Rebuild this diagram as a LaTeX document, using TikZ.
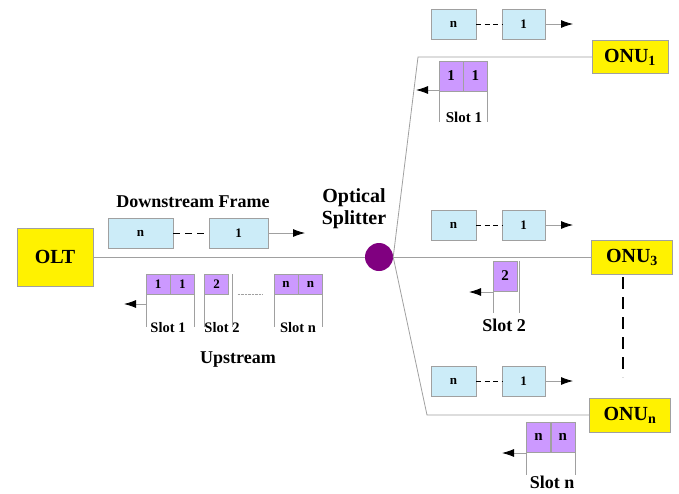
\documentclass[tikz,border=0pt]{standalone}
\usepackage{fontspec}
\setmainfont{Liberation Serif}
\usetikzlibrary{arrows.meta,positioning}
\definecolor{framebl}{HTML}{CCECF8}
\definecolor{slotpur}{HTML}{CC99FF}
\definecolor{splitpur}{HTML}{800080}
\definecolor{fibgr}{HTML}{A0A0A0}
\newcommand{\fsz}[1]{\fontsize{#1}{1.3\dimexpr#1pt\relax}\selectfont}

\begin{document}
\begin{tikzpicture}[x=1pt,y=-1pt,node distance=0pt,>={Latex[length=12pt,width=8pt,color=black]},
    every node/.append style={align=center,font=\bfseries},
    unit/.style={draw=fibgr,fill=yellow,minimum width=78pt,minimum height=34pt,font=\bfseries\fsz{20}},
    frm/.style={draw=fibgr,fill=framebl,minimum height=30pt,inner sep=0pt,font=\bfseries\fsz{13}},
    slt/.style={draw=fibgr,fill=slotpur,minimum width=24pt,minimum height=30pt,inner sep=0pt,font=\bfseries\fsz{15}},
    fib/.style={draw=fibgr,line width=0.8pt},
    gap/.style={draw=black,line width=1pt,dash pattern=on 5pt off 3.5pt},
    arr/.style={draw=fibgr,line width=0.8pt,->},
    lbl/.style={font=\bfseries\fsz{18}}]
    \useasboundingbox (0,0) rectangle (679,493);

    % OLT, splitter and the three ONUs
    \node [unit, minimum width=76pt, minimum height=58pt] (olt) at (55,257) {OLT};
    \node [circle, fill=splitpur, minimum size=28pt, inner sep=0pt] (spl) at (379,257) {};
    \node [font=\bfseries\fsz{20}] (spltxt) at (354,209) {Optical\\[-0.2em]Splitter};
    \node [unit, minimum width=76pt, minimum height=33pt] (onu1) at (630,57) {ONU\textsubscript{1}};
    \node [unit, minimum width=81pt] (onu3) at (632,257) {ONU\textsubscript{3}};
    \node [unit, minimum width=81pt] (onun) at (630,415) {ONU\textsubscript{n}};

    \coordinate (bend1) at (418,57);
    \coordinate (bendn) at (427,415);
    \draw[fib] (olt) -- (spl);
    \draw[fib] (spl.east) -- (bend1) -- (onu1.west);
    \draw[fib] (spl) -- (onu3);
    \draw[fib] (spl.east) -- (bendn) -- (onun.west);

    \coordinate (dot1) at (623,277);
    \coordinate (dot2) at (623,377);
    \draw[line width=2pt, dash pattern=on 12pt off 8pt] (dot1) -- (dot2);

    % downstream frame from the OLT
    \node [lbl] (dtxt) at (193,202) {Downstream Frame};
    \node [frm, minimum width=65pt] (dn) at (140.5,233) {n};
    \node [frm, minimum width=59pt] (d1) at (238.5,233) {1};
    \coordinate (dout) at (305,233);
    \draw[gap, dash pattern=on 7pt off 5pt] (dn) -- (d1);
    \draw[arr] (d1) -- (dout);

    % downstream frames at the ONUs
    \foreach \y/\nm in {24/a,225/b,381/c} {
        \node [frm, minimum width=45pt] (fn\nm) at (453.5,\y) {n};
        \node [frm, minimum width=43pt] (fo\nm) at (523.5,\y) {1};
        \coordinate (fe\nm) at (573,\y);
        \draw[gap] (fn\nm) -- (fo\nm);
        \draw[arr] (fo\nm) -- (fe\nm);
    }

    % upstream slots at the OLT
    \coordinate (lowL) at (0,327);
    \node [slt, minimum height=20pt, font=\bfseries\fsz{13}] (u1a) at (158,284) {1};
    \node [slt, minimum height=20pt, font=\bfseries\fsz{13}, right=of u1a] (u1b) {1};
    \node [slt, minimum height=20pt, font=\bfseries\fsz{13}] (u2) at (216.5,284) {2};
    \node [slt, minimum height=20pt, font=\bfseries\fsz{13}] (una) at (286,284) {n};
    \node [slt, minimum height=20pt, font=\bfseries\fsz{13}, right=of una] (unb) {n};
    \foreach \nd in {u1a,u2,una} \draw[fibgr] (\nd.north west) -- (\nd.north west |- lowL);
    \foreach \nd in {u1b,unb} \draw[fibgr] (\nd.north east) -- (\nd.north east |- lowL);
    \draw[fibgr] ([xshift=3pt]u2.north east) -- ([xshift=3pt]u2.north east |- lowL);
    \draw[fibgr, densely dotted] ([xshift=9pt]u2.south east) -- ([xshift=-11pt]una.south west);
    \coordinate (ustart) at (146,304);
    \coordinate (uend) at (124,304);
    \draw[arr] (ustart) -- (uend);
    \node [font=\bfseries\fsz{14.5}] (sl1) at (168,328) {Slot 1};
    \node [font=\bfseries\fsz{14.5}] (sl2) at (222,328) {Slot 2};
    \node [font=\bfseries\fsz{14.5}] (sln) at (298,328) {Slot n};
    \node [lbl] (utxt) at (238,360) {Upstream};

    % upstream slot of ONU 1
    \node [slt] (o1a) at (451,76) {1};
    \node [slt, right=of o1a] (o1b) {1};
    \draw[fibgr] (o1a.north west) -- ++(0,61);
    \draw[fibgr] (o1b.north east) -- ++(0,61);
    \coordinate (o1s) at (439,90);
    \coordinate (o1e) at (416,90);
    \draw[arr] (o1s) -- (o1e);
    \node [font=\bfseries\fsz{15}] (os1) at (464,117) {Slot 1};

    % upstream slot of ONU 3
    \node [slt] (o3) at (505,276) {2};
    \draw[fibgr] (o3.north west) -- ++(0,52);
    \draw[fibgr] ([xshift=2pt]o3.north east) -- ++(0,52);
    \coordinate (o3s) at (493,292);
    \coordinate (o3e) at (469,292);
    \draw[arr] (o3s) -- (o3e);
    \node [lbl] (os2) at (504,325) {Slot 2};

    % upstream slot of ONU n
    \node [slt] (ona) at (538.5,437) {n};
    \node [slt, right=of ona] (onb) {n};
    \draw[fibgr] (ona.north west) -- ++(0,53);
    \draw[fibgr] (onb.north east) -- ++(0,53);
    \coordinate (ons) at (526,453);
    \coordinate (one) at (502,453);
    \draw[arr] (ons) -- (one);
    \node [lbl] (osn) at (552,482) {Slot n};
\end{tikzpicture}
\end{document}
